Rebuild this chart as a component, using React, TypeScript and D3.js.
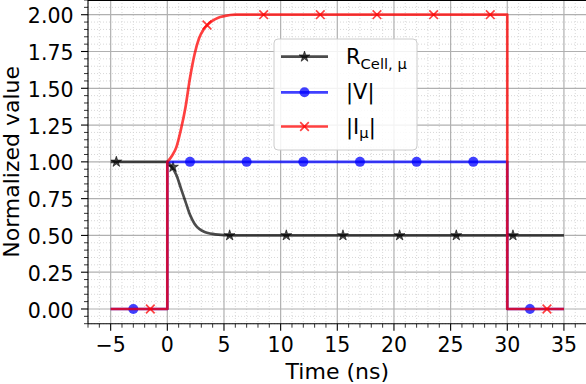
import React from 'react';
import * as d3 from 'd3';

// values
const xTicks = [-5, 0, 5, 10, 15, 20, 25, 30, 35];
const yTicks = [0, 0.25, 0.5, 0.75, 1.0, 1.25, 1.5, 1.75, 2.0];

// transient after the switch-on at t = 0
const rampT = [0, 0.4, 0.8, 1.2, 1.6, 2.0, 2.4, 2.8, 3.2, 3.6, 4.0, 4.5, 5.0, 6.0, 7.0];
const iRamp = [1.0, 1.04, 1.1, 1.22, 1.37, 1.57, 1.73, 1.84, 1.9, 1.935, 1.96, 1.98, 1.99, 2.0, 2.0];
const rRamp = [1.0, 0.965, 0.91, 0.82, 0.73, 0.64, 0.58, 0.545, 0.526, 0.516, 0.51, 0.505, 0.502, 0.5, 0.5];

// step parts [t, value]
const rBefore = [[-5, 1], [0, 1]];
const rAfter = [[30, 0.5], [35, 0.5]];
const vPoints = [[-5, 0], [0, 0], [0, 1], [30, 1], [30, 0], [35, 0]];
const iBefore = [[-5, 0], [0, 0], [0, 1]];
const iAfter = [[30, 2], [30, 0], [35, 0]];

// marker positions
const rMarkT = [-4.5, 0.5, 5.5, 10.5, 15.5, 20.5, 25.5, 30.5];
const rMarkV = [1, 0.965, 0.5, 0.5, 0.5, 0.5, 0.5, 0.5];
const vMarkT = [-3, 2, 7, 12, 17, 22, 27, 32];
const vMarkV = [0, 1, 1, 1, 1, 1, 1, 0];
const iMarkT = [-1.5, 3.5, 8.5, 13.5, 18.5, 23.5, 28.5, 33.5];
const iMarkV = [0, 1.93, 2, 2, 2, 2, 2, 0];

const W = 586;
const H = 384;
const FONT = 'DejaVu Sans, sans-serif';

const x = d3.scaleLinear([-7, 37], [88, 586.6]);
const y = d3.scaleLinear([-0.1, 2.1], [323.7, 0]);

const lin = d3.line<number[]>().x(d => x(d[0])).y(d => y(d[1]));
const smooth = d3.line<number[]>().x(d => x(d[0])).y(d => y(d[1])).curve(d3.curveMonotoneX);

// one path per series, so alpha does not double up at joins
const joinPath = (before: number[][], ramp: number[][], after: number[][]) =>
  (lin(before) || '') + (smooth(ramp) || '').replace(/^M/, 'L') + (lin(after) || '').replace(/^M/, 'L');

const rPath = joinPath(rBefore, rampT.map((t, i) => [t, rRamp[i]]), rAfter);
const iPath = joinPath(iBefore, rampT.map((t, i) => [t, iRamp[i]]), iAfter);
const vPath = lin(vPoints) || '';

const starPath = d3.symbol(d3.symbolStar, 36)() || '';

const BLACK = '#000000';
const BLUE = '#0000ff';
const RED = '#ff0000';

const Star = ({ cx, cy }: { cx: number; cy: number }) => (
  <path d={starPath} transform={`translate(${cx},${cy})`} fill={BLACK} fillOpacity={0.7} stroke={BLACK} strokeOpacity={0.7} strokeWidth={0.8} />
);
const Dot = ({ cx, cy }: { cx: number; cy: number }) => (
  <circle cx={cx} cy={cy} r={5} fill={BLUE} fillOpacity={0.75} />
);
const Cross = ({ cx, cy }: { cx: number; cy: number }) => (
  <path d={`M${cx - 4.3},${cy - 4.3}L${cx + 4.3},${cy + 4.3}M${cx - 4.3},${cy + 4.3}L${cx + 4.3},${cy - 4.3}`}
    stroke={RED} strokeOpacity={0.75} strokeWidth={1.7} fill="none" />
);

const minorX = d3.range(-7, 38, 1).filter(v => v % 5 !== 0);
const minorY = d3.range(-2, 43, 1).map(v => v * 0.05).filter((v, i) => (i - 2) % 5 !== 0);

const legendRows = [
  { key: 'r', y: 56.7 },
  { key: 'v', y: 92.3 },
  { key: 'i', y: 126.5 },
];

export default function App() {
  const [x0, x1] = x.range();
  const [y0, y1] = y.range();
  return (
    <svg width={W} height={H} style={{ position: 'absolute', left: 0, top: 0, background: '#fff' }}
      fontFamily={FONT}>
      <rect width={W} height={H} fill="#fff" />

      {/* minor grid */}
      <g stroke="#d4d4d4" strokeWidth={0.9} strokeDasharray="1,2">
        {minorX.map(v => <line key={'mx' + v} x1={x(v)} x2={x(v)} y1={y1} y2={y0} />)}
        {minorY.map(v => <line key={'my' + v} x1={x0} x2={x1} y1={y(v)} y2={y(v)} />)}
      </g>
      {/* major grid */}
      <g stroke="#b0b0b0" strokeWidth={1.2}>
        {xTicks.map(v => <line key={'gx' + v} x1={x(v)} x2={x(v)} y1={y1} y2={y0} />)}
        {yTicks.map(v => <line key={'gy' + v} x1={x0} x2={x1} y1={y(v)} y2={y(v)} />)}
      </g>

      {/* series */}
      <path d={rPath} fill="none" stroke={BLACK} strokeOpacity={0.7} strokeWidth={2.7} strokeLinejoin="round" />
      {rMarkT.map((t, i) => <Star key={'s' + i} cx={x(t)} cy={y(rMarkV[i])} />)}
      <path d={vPath} fill="none" stroke={BLUE} strokeOpacity={0.75} strokeWidth={2.7} strokeLinejoin="round" />
      {vMarkT.map((t, i) => <Dot key={'d' + i} cx={x(t)} cy={y(vMarkV[i])} />)}
      <path d={iPath} fill="none" stroke={RED} strokeOpacity={0.75} strokeWidth={2.7} strokeLinejoin="round" />
      {iMarkT.map((t, i) => <Cross key={'c' + i} cx={x(t)} cy={y(iMarkV[i])} />)}

      {/* spines */}
      <g stroke="#000" strokeWidth={1.1} fill="none">
        <line x1={x0} x2={x0} y1={0} y2={y0} />
        <line x1={x0} x2={W} y1={y0} y2={y0} />
        <line x1={x0} x2={W} y1={0.4} y2={0.4} />
      </g>

      {/* ticks */}
      <g stroke="#000">
        {xTicks.map(v => <line key={'tx' + v} x1={x(v)} x2={x(v)} y1={y0} y2={y0 + 7} strokeWidth={1.1} />)}
        {minorX.map(v => <line key={'tmx' + v} x1={x(v)} x2={x(v)} y1={y0} y2={y0 + 4} strokeWidth={0.8} />)}
        {yTicks.map(v => <line key={'ty' + v} x1={x0} x2={x0 - 7} y1={y(v)} y2={y(v)} strokeWidth={1.1} />)}
        {minorY.map(v => <line key={'tmy' + v} x1={x0} x2={x0 - 4} y1={y(v)} y2={y(v)} strokeWidth={0.8} />)}
      </g>
      <g fontSize={20.5} fill="#000">
        {xTicks.map(v => (
          <text key={'lx' + v} x={x(v)} y={351.7} textAnchor="middle">{v < 0 ? '\u2212' + Math.abs(v) : v}</text>
        ))}
        {yTicks.map(v => (
          <text key={'ly' + v} x={73.5} y={y(v) + 8.6} textAnchor="end">{v.toFixed(2)}</text>
        ))}
      </g>

      {/* axis labels */}
      <text x={(x0 + x1) / 2} y={379.3} textAnchor="middle" fontSize={22}>Time (ns)</text>
      <text transform={`translate(19.2,${(y0 + y1) / 2}) rotate(-90)`} textAnchor="middle" fontSize={22}>Normalized value</text>

      {/* legend */}
      <rect x={274} y={39} width={143} height={111} rx={4} fill="#fff" fillOpacity={0.85} stroke="#cccccc" strokeWidth={1} />
      {legendRows.map(row => {
        const col = row.key === 'r' ? BLACK : row.key === 'v' ? BLUE : RED;
        const op = row.key === 'r' ? 0.7 : 0.75;
        return (
          <g key={row.key}>
            <line x1={281} x2={328} y1={row.y} y2={row.y} stroke={col} strokeOpacity={op} strokeWidth={2.7} />
            {row.key === 'r' && <Star cx={304.5} cy={row.y} />}
            {row.key === 'v' && <Dot cx={304.5} cy={row.y} />}
            {row.key === 'i' && <Cross cx={304.5} cy={row.y} />}
          </g>
        );
      })}
      <g fontSize={21} fill="#000">
        <text x={346} y={64.3}>R<tspan fontSize={14.7} dy={4.5}>Cell, μ</tspan></text>
        <text x={346} y={99}>|V|</text>
        <text x={346} y={133.5}>|I<tspan fontSize={14.7} dy={4.5}>μ</tspan><tspan dy={-4.5}>|</tspan></text>
      </g>
    </svg>
  );
}
